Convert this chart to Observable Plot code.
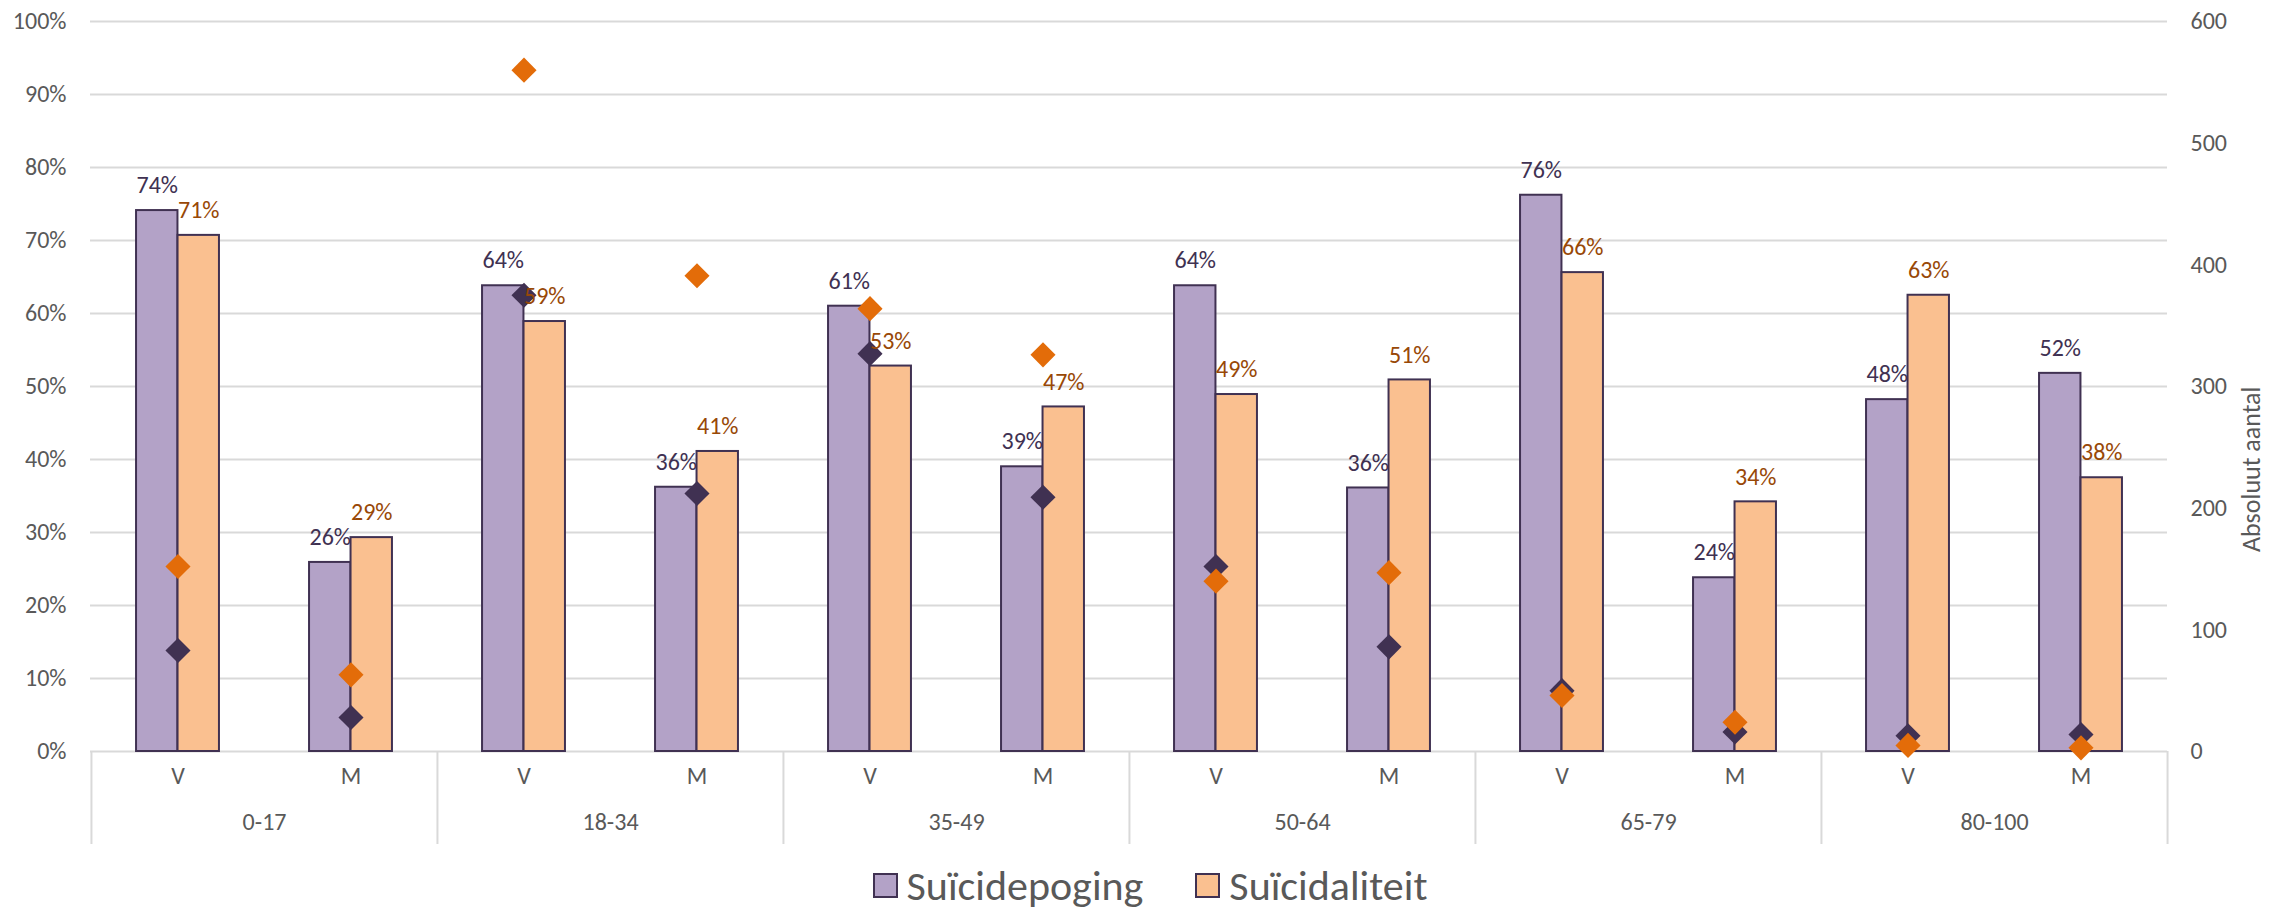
<!DOCTYPE html>
<html>
<head>
<meta charset="utf-8">
<script src="https://cdn.jsdelivr.net/npm/d3@7"></script>
<script src="https://cdn.jsdelivr.net/npm/@observablehq/plot@0.6"></script>
<style>
  html, body { margin: 0; padding: 0; background: #fff; }
  #chart svg { display: block; }
  .legend { display: flex; justify-content: center; align-items: center; height: 51px; padding-left: 30px;
            font-family: Carlito, Lato, sans-serif; font-size: 42px; color: #595959; }
  .legend .item { display: flex; align-items: center; margin: 0 26px; }
  .legend .sw { width: 25px; height: 25px; border: 2px solid #403152; margin-right: 9px; box-sizing: border-box; }
</style>
</head>
<body>
<div id="chart"></div>
<div class="legend" id="legend"></div>
<script>
// ---- data ----
const ageGroups = ["0-17", "18-34", "35-49", "50-64", "65-79", "80-100"];
const sexes = ["V", "M"];
const seriesNames = ["Suïcidepoging", "Suïcidaliteit"];
// percentages (left axis)
const pogingPct = [74.1, 25.9, 63.8, 36.2, 61.0, 39.0, 63.8, 36.1, 76.2, 23.8, 48.2, 51.8];
const suicidaliteitPct = [70.7, 29.3, 58.9, 41.1, 52.8, 47.2, 48.9, 50.9, 65.6, 34.2, 62.5, 37.5];
// absolute numbers (right axis)
const pogingAantal = [83, 28, 375, 212, 327, 209, 152, 86, 50, 16, 13, 14];
const suicidaliteitAantal = [152, 63, 560, 391, 364, 326, 140, 147, 46, 24, 5, 3];
// tick labels
const leftTicks = [0, 10, 20, 30, 40, 50, 60, 70, 80, 90, 100];
const rightTicks = [0, 100, 200, 300, 400, 500, 600];
const rightAxisTitle = "Absoluut aantal";

// ---- build table ----
const rows = [];
ageGroups.forEach((g, gi) => sexes.forEach((s, si) => {
  const i = gi * 2 + si;
  rows.push({key: g + "|" + s, group: g, sex: s,
    poging: pogingPct[i], suic: suicidaliteitPct[i],
    nPoging: pogingAantal[i], nSuic: suicidaliteitAantal[i]});
}));
const keys = rows.map(d => d.key);
const pctMax = 100, countMax = 600, factor = pctMax / countMax;

const W = 2270, H = 860;
const mL = 90, mR = 103, mT = 21, mB = 109;
const bw = (W - mL - mR) / keys.length;
const barW = 41.5;

const purple = "#b3a2c7", orange = "#fac090", dark = "#403152", orangeDot = "#e36c09", orangeText = "#984807";
const grid = "#d9d9d9", textGray = "#595959";
const font = "Carlito, Lato, sans-serif";
const fs = 24;

const groupRows = ageGroups.map(g => ({group: g, key: g + "|V"}));
const boundaries = ageGroups.map(g => ({key: g + "|V", dx: -bw / 2}));
boundaries.push({key: keys[keys.length - 1], dx: bw / 2});

const chart = Plot.plot({
  width: W, height: H,
  marginLeft: mL, marginRight: mR, marginTop: mT, marginBottom: mB,
  style: {fontFamily: font, fontSize: fs + "px", color: textGray, background: "#fff"},
  x: {domain: keys, padding: 0, axis: null},
  y: {domain: [0, pctMax], axis: null},
  marks: [
    Plot.ruleY(leftTicks, {stroke: grid, strokeWidth: 2}),
    Plot.axisY(leftTicks, {anchor: "left", tickSize: 0, tickPadding: 24, tickFormat: d => d + "%", label: null, fill: textGray, fontSize: fs}),
    Plot.axisY(rightTicks.map(v => v * factor), {anchor: "right", tickSize: 0, tickPadding: 23, tickFormat: d => Math.round(d / factor), label: null, fill: textGray, fontSize: fs}),
    Plot.text([rightAxisTitle], {frameAnchor: "right", dx: 84, rotate: -90, fill: textGray, fontSize: 26}),
    // category separators below axis
    ...boundaries.map(b => Plot.ruleX([b.key], {dx: b.dx, y1: 0, y2: 0, insetBottom: -93, stroke: grid, strokeWidth: 2})),
    // bars
    Plot.barY(rows, {x: "key", y: "poging", fill: purple, stroke: dark, strokeWidth: 2, insetLeft: bw / 2 - barW, insetRight: bw / 2}),
    Plot.barY(rows, {x: "key", y: "suic", fill: orange, stroke: dark, strokeWidth: 2, insetLeft: bw / 2, insetRight: bw / 2 - barW}),
    // diamonds (absolute numbers)
    Plot.dot(rows, {x: "key", y: d => d.nPoging * factor, symbol: "diamond2", r: 11.3, fill: dark, stroke: "none"}),
    Plot.dot(rows, {x: "key", y: d => d.nSuic * factor, symbol: "diamond2", r: 11.3, fill: orangeDot, stroke: "none"}),
    // data labels
    Plot.text(rows, {x: "key", y: "poging", text: d => Math.round(d.poging) + "%", dx: -barW / 2, dy: -25, fill: dark, fontSize: fs}),
    Plot.text(rows, {x: "key", y: "suic", text: d => Math.round(d.suic) + "%", dx: barW / 2, dy: -25, fill: orangeText, fontSize: fs}),
    // category labels
    Plot.text(rows, {x: "key", text: "sex", frameAnchor: "bottom", dy: 32, fill: textGray, fontSize: fs}),
    Plot.text(groupRows, {x: "key", text: "group", frameAnchor: "bottom", dx: bw / 2, dy: 78, fill: textGray, fontSize: fs})
  ]
});
document.getElementById("chart").appendChild(chart);

// legend
const legend = document.getElementById("legend");
[[seriesNames[0], purple], [seriesNames[1], orange]].forEach(([name, color]) => {
  const item = document.createElement("div");
  item.className = "item";
  const sw = document.createElement("div");
  sw.className = "sw";
  sw.style.background = color;
  const t = document.createElement("span");
  t.textContent = name;
  item.appendChild(sw);
  item.appendChild(t);
  legend.appendChild(item);
});
</script>
</body>
</html>
